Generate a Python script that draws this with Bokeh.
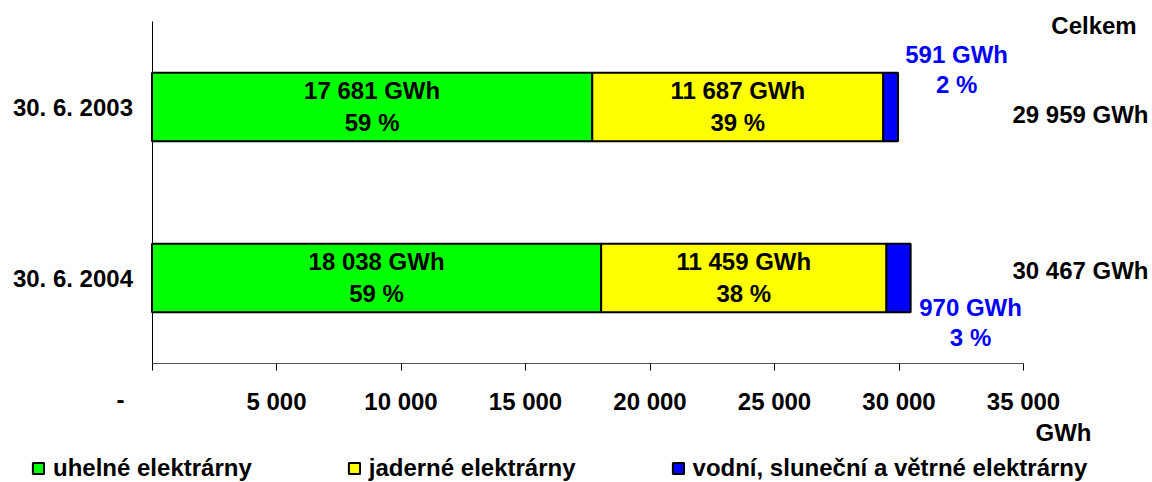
from bokeh.plotting import figure
from bokeh.models import (ColumnDataSource, Range1d, LabelSet, Legend,
                          LegendItem, FixedTicker)
from bokeh.core.properties import value
from bokeh.embed import file_html
from bokeh.resources import INLINE

# ---------------- data ----------------
dates = ["30. 6. 2003", "30. 6. 2004"]
coal = [17681, 18038]
nuclear = [11687, 11459]
renew = [591, 970]
coal_pct = ["59 %", "59 %"]
nuclear_pct = ["39 %", "38 %"]
renew_pct = ["2 %", "3 %"]
totals = [29959, 30467]
series_names = ["uhelné elektrárny", "jaderné elektrárny",
                "vodní, sluneční a větrné elektrárny"]
series_colors = ["#00FF00", "#FFFF00", "#0000FF"]
x_ticks = [0, 5000, 10000, 15000, 20000, 25000, 30000, 35000]
total_title = "Celkem"
unit = "GWh"
zero_label = "-"

FONT = "Liberation Sans"
FS = "24px"

W, H = 1152, 482
# screen geometry of the value axis (pixels)
X0_PX, PX_PER_UNIT = 151.5, 0.02490          # x = 0 at 151.5 px, 24.9 px per 1000 GWh
ROW_PX, ROW0_PX = 171.0, 277.5               # row spacing, screen y of the lower row


def fmt(v):
    return f"{v:,}".replace(",", " ")


n = len(dates)
ypos = [n - 1 - i for i in range(n)]         # first date on top

x_start = -X0_PX / PX_PER_UNIT
x_end = x_start + W / PX_PER_UNIT
y_top = (ROW0_PX) / ROW_PX
y_bottom = -(H - ROW0_PX) / ROW_PX

src = ColumnDataSource(dict(y=ypos, coal=coal, nuclear=nuclear, renew=renew))

p = figure(width=W, height=H,
           x_range=Range1d(x_start, x_end), y_range=Range1d(y_bottom, y_top),
           output_backend="svg", toolbar_location=None,
           min_border=0, min_border_left=0, min_border_right=0,
           min_border_top=0, min_border_bottom=0)
p.outline_line_color = None
p.xgrid.grid_line_color = None
p.ygrid.grid_line_color = None
p.background_fill_color = "white"
p.border_fill_color = "white"

rs = p.hbar_stack(["coal", "nuclear", "renew"], y="y", height=0.4,
                  color=series_colors, line_color="black", line_width=2,
                  source=src)

# ---------- axes ----------
xa = p.xaxis[0]
xa.fixed_location = -0.5
xa.bounds = (x_ticks[0], x_ticks[-1])
xa.ticker = FixedTicker(ticks=x_ticks, minor_ticks=[])
xa.major_label_overrides = {t: (fmt(t) if t else "") for t in x_ticks}
xa.major_tick_in = 0
xa.major_tick_out = 7
xa.major_tick_line_color = "black"
xa.axis_line_color = "#555555"
xa.major_label_text_font = FONT
xa.major_label_text_font_size = FS
xa.major_label_text_font_style = "bold"
xa.major_label_text_color = "black"
xa.major_label_standoff = 17

ya = p.yaxis[0]
ya.fixed_location = 0
ya.bounds = (-0.5, n - 0.5)
ya.ticker = FixedTicker(ticks=ypos, minor_ticks=[])
ya.major_label_overrides = {yv: d for yv, d in zip(ypos, dates)}
ya.major_tick_in = 0
ya.major_tick_out = 0
ya.axis_line_color = "black"
ya.major_label_text_font = FONT
ya.major_label_text_font_size = FS
ya.major_label_text_font_style = "bold"
ya.major_label_text_color = "black"
ya.major_label_standoff = 19


def labelset(source, **kw):
    base = dict(x="x", y="y", text="t", source=source,
                text_font=value(FONT), text_font_size=FS, text_font_style="bold",
                text_baseline="alphabetic", text_align="center")
    base.update(kw)
    ls = LabelSet(**base)
    p.add_layout(ls)
    return ls


# labels inside the coal and nuclear segments
coal_mid = [c / 2 for c in coal]
nuc_mid = [c + nn / 2 for c, nn in zip(coal, nuclear)]
ren_mid = [c + nn + r / 2 for c, nn, r in zip(coal, nuclear, renew)]

for mids, vals, pcts in ((coal_mid, coal, coal_pct), (nuc_mid, nuclear, nuclear_pct)):
    labelset(ColumnDataSource(dict(x=mids, y=ypos, t=[fmt(v) + " " + unit for v in vals])),
             y_offset=8.5, text_color="black")
    labelset(ColumnDataSource(dict(x=mids, y=ypos, t=pcts)),
             y_offset=-23.5, text_color="black")

# renewable labels (placed beside the bars)
ren_dx = [66, 72]
ren_dy1 = [44.5, -37.5]
ren_dy2 = [14.5, -67.5]
labelset(ColumnDataSource(dict(x=ren_mid, y=ypos, t=[fmt(v) + " " + unit for v in renew],
                               xo=ren_dx, yo=ren_dy1)),
         x_offset="xo", y_offset="yo", text_color="#0000FF")
labelset(ColumnDataSource(dict(x=ren_mid, y=ypos, t=renew_pct, xo=ren_dx, yo=ren_dy2)),
         x_offset="xo", y_offset="yo", text_color="#0000FF")

# totals column
xend = x_ticks[-1]
labelset(ColumnDataSource(dict(x=[xend] * n, y=ypos,
                               t=[fmt(v) + " " + unit for v in totals],
                               yo=[-15.5, -0.5])),
         x_offset=125, y_offset="yo", text_align="right", text_color="black")
labelset(ColumnDataSource(dict(x=[xend], y=[ypos[0]], t=[total_title])),
         x_offset=70.5, y_offset=73.5, text_color="black")

# axis unit and zero label
labelset(ColumnDataSource(dict(x=[xend], y=[-0.5], t=[unit])),
         x_offset=40, y_offset=-77, text_color="black")
labelset(ColumnDataSource(dict(x=[x_ticks[0]], y=[-0.5], t=[zero_label])),
         x_offset=-31.5, y_offset=-44, text_color="black")

# ---------- legend ----------
legend = Legend(items=[LegendItem(label=nm, renderers=[r]) for nm, r in zip(series_names, rs)],
                orientation="horizontal", location=(31, 0),
                label_text_font=FONT, label_text_font_size=FS,
                label_text_font_style="bold", label_text_color="black",
                glyph_width=14, glyph_height=14, label_standoff=8,
                spacing=95, padding=0, margin=0,
                border_line_color=None, background_fill_alpha=0)
p.add_layout(legend)

open("out.html", "w").write(file_html(p, INLINE))
